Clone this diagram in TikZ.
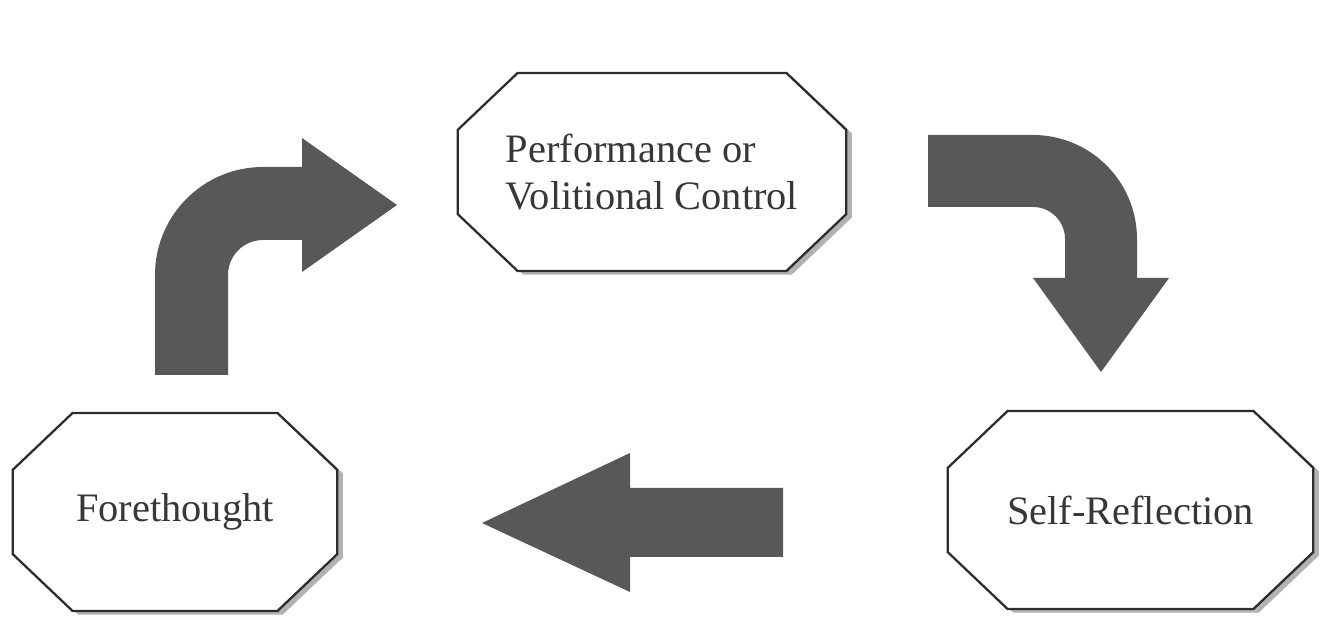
\documentclass[tikz,border=0pt]{standalone}
\usepackage{fontspec}
\setmainfont{Liberation Serif}
\usetikzlibrary{calc,backgrounds}

\definecolor{arrowgray}{RGB}{88,88,88}
\definecolor{edgegray}{RGB}{45,45,45}
\definecolor{textgray}{RGB}{55,55,55}

% outline of a chamfered box round node #1, moved by #2
\newcommand{\stageoutline}[2]{($(#1.north west)+(1.2cm,0)+(#2)$) -- ($(#1.north east)+(-1.2cm,0)+(#2)$)
	-- ($(#1.north east)+(0,-1.14cm)+(#2)$) -- ($(#1.south east)+(0,1.14cm)+(#2)$)
	-- ($(#1.south east)+(-1.2cm,0)+(#2)$) -- ($(#1.south west)+(1.2cm,0)+(#2)$)
	-- ($(#1.south west)+(0,1.14cm)+(#2)$) -- ($(#1.north west)+(0,-1.14cm)+(#2)$) -- cycle}

\begin{document}
\begin{tikzpicture}[x=0.02cm, y=0.02cm,
		stage/.style={text=textgray, font=\fontsize{23}{27}\selectfont, minimum height=3.95cm, inner sep=0pt},
		stageedge/.style={draw=edgegray, fill=white, line width=1.3pt, line join=miter},
		blockarrow/.style={fill=arrowgray, draw=none}]
		\useasboundingbox (0,0) rectangle (1324,644);
		
		% the three phases
		\node[stage, minimum width=7.76cm, align=left] (perf) at (652,472) {Performance or\\Volitional Control};
		\node[stage, minimum width=6.48cm] (fore) at (175,132) {Forethought};
		\node[stage, minimum width=7.3cm] (refl) at (1130.5,134) {Self-Reflection};
		
		% Draw boxes with shadow behind the texts
		\begin{pgfonlayer}{background}
			\fill[white] (0,0) rectangle (1324,644);
			\foreach \n in {perf,fore,refl} {
				\fill[gray!60] \stageoutline{\n}{0.11cm,-0.07cm};
				\draw[stageedge] \stageoutline{\n}{0,0};
			}
		\end{pgfonlayer}
		
		% Draw the block arrows of the cycle
		\fill[blockarrow] (155,269) -- (228,269) -- (228,369) arc[start angle=180, end angle=90, radius=35]
			-- (302,404) -- (302,372) -- (397,439) -- (302,506) -- (302,477)
			-- (263,477) arc[start angle=90, end angle=180, radius=108] -- cycle;
		\fill[blockarrow] (928,509) -- (1033,509) arc[start angle=90, end angle=0, radius=104]
			-- (1137,366) -- (1169,366) -- (1101,272) -- (1033,366) -- (1065,366)
			-- (1065,405) arc[start angle=0, end angle=90, radius=32] -- (928,437) -- cycle;
		\fill[blockarrow] (783,156) -- (630,156) -- (630,191) -- (482,121) -- (630,52) -- (630,87) -- (783,87) -- cycle;
	\end{tikzpicture}
\end{document}
